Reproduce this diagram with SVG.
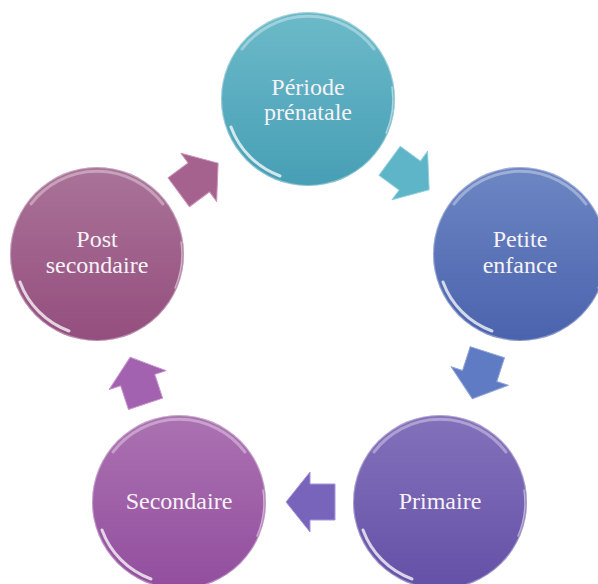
<svg xmlns="http://www.w3.org/2000/svg" width="598" height="584" viewBox="0 0 598 584">
<style>
.lbl{font-family:"Liberation Serif","DejaVu Serif",serif;font-size:24px;fill:#f6f2f7;text-anchor:middle}
.rim{fill:none;stroke:#ffffff;stroke-linecap:round}
.arr{stroke-width:1;stroke-linejoin:round}
</style>
<defs>
<linearGradient id="c1" x1="0" y1="0" x2="0" y2="1"><stop offset="0" stop-color="#6cbac9"/><stop offset="1" stop-color="#479fb5"/></linearGradient>
<linearGradient id="c2" x1="0" y1="0" x2="0" y2="1"><stop offset="0" stop-color="#6d86c3"/><stop offset="1" stop-color="#4a63ad"/></linearGradient>
<linearGradient id="c3" x1="0" y1="0" x2="0" y2="1"><stop offset="0" stop-color="#8471bb"/><stop offset="1" stop-color="#6451a7"/></linearGradient>
<linearGradient id="c4" x1="0" y1="0" x2="0" y2="1"><stop offset="0" stop-color="#ab72b1"/><stop offset="1" stop-color="#924e9e"/></linearGradient>
<linearGradient id="c5" x1="0" y1="0" x2="0" y2="1"><stop offset="0" stop-color="#aa7398"/><stop offset="1" stop-color="#944e7e"/></linearGradient>
<g id="gloss">
<circle r="86.5" fill="none" stroke="#ffffff" stroke-opacity="0.35" stroke-width="1.2"/>
<path class="rim" d="M -66,-50 A 83 83 0 0 1 66,-50" stroke-width="3" stroke-opacity="0.35"/>
<path class="rim" d="M -28,77 A 82 82 0 0 1 -77,28" stroke-width="3" stroke-opacity="0.75"/>
<path class="rim" d="M 84,-12 A 85 85 0 0 1 78,34" stroke-width="1.5" stroke-opacity="0.5"/>
</g>
<path id="arrow" d="M -24,-18 L 1,-18 L 1,-30 L 25,0 L 1,30 L 1,18 L -24,18 Z"/>
</defs>

<g id="connectors">
<use href="#arrow" class="arr" fill="#5db5c7" stroke="#8fd0dc" transform="translate(409,175) rotate(36.3)"/>
<use href="#arrow" class="arr" fill="#5f7bc4" stroke="#8ea3d8" transform="translate(480,375) rotate(107.9)"/>
<use href="#arrow" class="arr" fill="#7964bc" stroke="#a596d6" transform="translate(311,502) rotate(180)"/>
<use href="#arrow" class="arr" fill="#a262af" stroke="#c793ce" transform="translate(138,381) rotate(-108.3)"/>
<use href="#arrow" class="arr" fill="#a6628f" stroke="#c994b5" transform="translate(198,178) rotate(-36.5)"/>
</g>

<g id="n1" transform="translate(308,99)">
<circle r="87" fill="url(#c1)"/>
<use href="#gloss"/>
<text class="lbl" y="-4">Période</text>
<text class="lbl" y="21">prénatale</text>
</g>
<g id="n2" transform="translate(520,254)">
<circle r="87" fill="url(#c2)"/>
<use href="#gloss"/>
<text class="lbl" y="-7">Petite</text>
<text class="lbl" y="19">enfance</text>
</g>
<g id="n3" transform="translate(440,502)">
<circle r="87" fill="url(#c3)"/>
<use href="#gloss"/>
<text class="lbl" y="7">Primaire</text>
</g>
<g id="n4" transform="translate(179,502)">
<circle r="87" fill="url(#c4)"/>
<use href="#gloss"/>
<text class="lbl" y="7">Secondaire</text>
</g>
<g id="n5" transform="translate(97,254)">
<circle r="87" fill="url(#c5)"/>
<use href="#gloss"/>
<text class="lbl" y="-7">Post</text>
<text class="lbl" y="19">secondaire</text>
</g>
</svg>
